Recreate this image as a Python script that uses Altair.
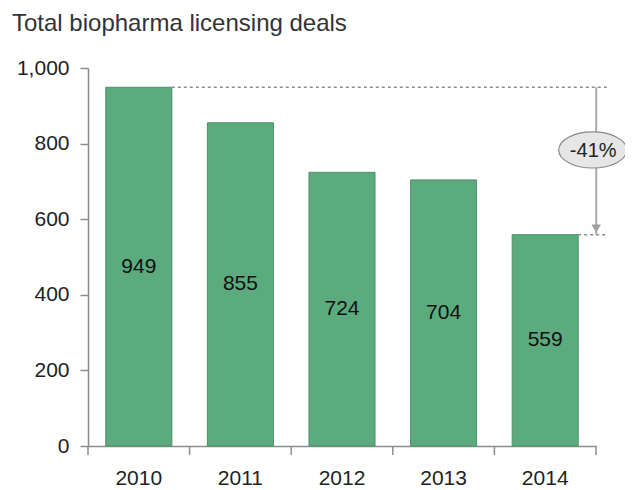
import altair as alt
import pandas as pd

years = ["2010", "2011", "2012", "2013", "2014"]
deals = [949, 855, 724, 704, 559]
y_ticks = [0, 200, 400, 600, 800, 1000]

FONT = "Liberation Sans"
BAR = "#5cab7e"
BAR_STROKE = "#4f9169"
GRAY = "#8c8c8c"

df = pd.DataFrame({"year": years, "deals": deals})

first_v, last_v = deals[0], deals[-1]
pct = round((last_v - first_v) / first_v * 100)
ann = pd.DataFrame({
    "from_year": [years[0], years[-1]],
    "to_year": [years[-1], years[-1]],
    "v": [first_v, last_v],
})
arrow = pd.DataFrame({"year": [years[-1]], "top": [first_v], "bottom": [last_v],
                      "mid": [(first_v + last_v) / 2], "label": [f"{pct}%"]})

W, H = 508, 378
P_IN, P_OUT = 0.35, 0.175
STEP = W / (len(years) - P_IN + 2 * P_OUT)
BANDW = STEP * (1 - P_IN)

xscale = alt.Scale(domain=years, paddingInner=P_IN, paddingOuter=P_OUT)
yscale = alt.Scale(domain=[0, 1000], nice=False)

x_axis = alt.Axis(title=None, labelFont=FONT, labelFontSize=21, labelColor="#222",
                  domainColor=GRAY, ticks=False, labelPadding=21, labelAngle=0,
                  domainWidth=1.5)
y_axis = alt.Axis(title=None, values=y_ticks, format=",d", labelFont=FONT,
                  labelFontSize=21, labelColor="#222", domainColor=GRAY, tickColor=GRAY,
                  tickSize=8, labelPadding=11, grid=False, domainWidth=1.5, tickWidth=1.5)

bars = alt.Chart(df).mark_bar(color=BAR, stroke=BAR_STROKE, strokeWidth=1).encode(
    x=alt.X("year:O", scale=xscale, axis=x_axis),
    y=alt.Y("deals:Q", scale=yscale, axis=y_axis),
)

# x-axis ticks on band boundaries (between bars)
ticks_right = alt.Chart(df).mark_rule(color=GRAY, strokeWidth=1.5, xOffset=STEP / 2,
                                      y2Offset=9).encode(
    x=alt.X("year:O", scale=xscale),
    y=alt.datum(0, scale=yscale),
    y2=alt.datum(0),
)
ticks_left = alt.Chart(df.head(1)).mark_rule(color=GRAY, strokeWidth=1.5, xOffset=-STEP / 2,
                                             y2Offset=9).encode(
    x=alt.X("year:O", scale=xscale),
    y=alt.datum(0, scale=yscale),
    y2=alt.datum(0),
)

labels = alt.Chart(df).transform_calculate(half="datum.deals / 2").mark_text(
    font=FONT, fontSize=21, color="#111", baseline="middle"
).encode(
    x=alt.X("year:O", scale=xscale),
    y=alt.Y("half:Q", scale=yscale),
    text=alt.Text("deals:Q"),
)

dashed = alt.Chart(ann).mark_rule(
    color=GRAY, strokeDash=[3, 3], strokeWidth=1.5, xOffset=BANDW / 2, x2Offset=62
).encode(
    x=alt.X("from_year:O", scale=xscale),
    x2="to_year:O",
    y=alt.Y("v:Q", scale=yscale),
)

arrow_line = alt.Chart(arrow).mark_rule(color="#aaaaaa", strokeWidth=2, xOffset=51).encode(
    x=alt.X("year:O", scale=xscale),
    y=alt.Y("top:Q", scale=yscale),
    y2=alt.Y2("bottom:Q"),
)

arrow_head = alt.Chart(arrow).mark_point(
    shape="triangle-down", filled=True, color="#a0a0a0", size=90, opacity=1,
    xOffset=51, yOffset=-6
).encode(
    x=alt.X("year:O", scale=xscale),
    y=alt.Y("bottom:Q", scale=yscale),
)

ellipse = alt.Chart(arrow).mark_point(
    shape="M -1 0 A 1 0.53 0 1 1 1 0 A 1 0.53 0 1 1 -1 0 Z",
    filled=True, fill="#e6e6e6", stroke="#8a8a8a", strokeWidth=1.2, size=4624,
    opacity=1, fillOpacity=1, xOffset=47.5, yOffset=-11
).encode(
    x=alt.X("year:O", scale=xscale),
    y=alt.Y("mid:Q", scale=yscale),
)

ell_text = alt.Chart(arrow).mark_text(
    font=FONT, fontSize=20, color="#222", baseline="middle", xOffset=48, yOffset=-10
).encode(
    x=alt.X("year:O", scale=xscale),
    y=alt.Y("mid:Q", scale=yscale),
    text="label:N",
)

chart = alt.layer(bars, ticks_right, ticks_left, labels, dashed, arrow_line, arrow_head,
                  ellipse, ell_text).properties(
    width=W,
    height=H,
    padding={"left": 80, "top": 60, "right": 29, "bottom": 44},
    autosize=alt.AutoSizeParams(type="none"),
    title=alt.TitleParams("Total biopharma licensing deals", anchor="start", frame="group",
                          dx=-76, offset=21, font=FONT, fontSize=24, fontWeight="normal",
                          color="#333"),
).configure(background="white").configure_view(stroke="transparent", strokeWidth=0)

chart.save("out.html", embed_options={"renderer": "svg", "actions": False})
